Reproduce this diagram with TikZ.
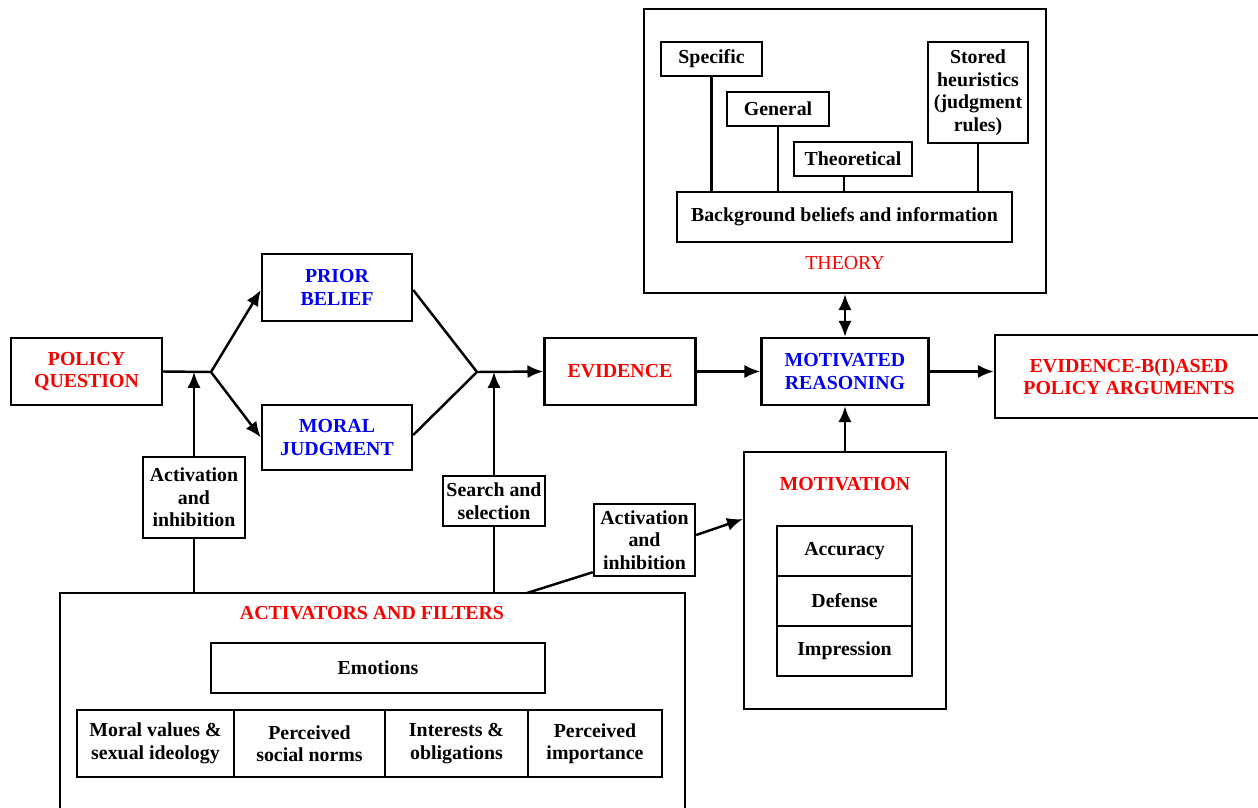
\documentclass[tikz,border=0pt]{standalone}
\usepackage{fontspec}
\setmainfont{Liberation Serif}
\usepackage{tikz}
\usetikzlibrary{arrows.meta,positioning,calc}
\definecolor{lblred}{RGB}{250,0,0}
\definecolor{lblblue}{RGB}{0,0,245}

\begin{document}
\begin{tikzpicture}[
x=0.02cm, y=-0.02cm,
every node/.style={font=\bfseries\fontsize{11.3}{12.8}\selectfont},
box/.style={draw, line width=1.4pt, align=center, inner sep=1pt},
outerbox/.style={draw, line width=1.4pt, inner sep=0pt},
cell/.style={draw, line width=1.4pt, align=center, inner sep=1pt, outer sep=0pt, minimum height=1.0cm},
redtext/.style={text=lblred, align=center},
bluetext/.style={text=lblblue, align=center},
link/.style={line width=1.4pt},
arrow/.style={-{Latex[length=9pt,width=7.5pt]}, line width=1.4pt},
twoarrow/.style={{Latex[length=9pt,width=7.5pt]}-{Latex[length=9pt,width=7.5pt]}, line width=1.4pt}
]
\useasboundingbox (0,0) rectangle (1258,808);

\node[box, redtext, minimum width=3.02cm, minimum height=1.34cm] (policy) at (86.5,371.5) {POLICY\\QUESTION};
\node[box, bluetext, minimum width=3.0cm, minimum height=1.34cm] (prior) at (337,287.5) {PRIOR\\BELIEF};
\node[box, bluetext, minimum width=3.0cm, minimum height=1.3cm] (moral) at (337,437.5) {MORAL\\JUDGMENT};
\node[box, redtext, minimum width=3.02cm, minimum height=1.34cm] (evidence) at (620,371.5) {EVIDENCE};
\node[box, bluetext, minimum width=3.34cm, minimum height=1.34cm] (reasoning) at (845,371.5) {MOTIVATED\\REASONING};
\node[box, redtext, minimum width=5.36cm, minimum height=1.66cm] (arguments) at (1129,376.5) {EVIDENCE-B(I)ASED\\POLICY ARGUMENTS};
\coordinate (split) at (211,372);
\coordinate (merge) at (477,372);

\node[outerbox, minimum width=8.04cm, minimum height=5.68cm] (theory) at (845,151) {};
\node[redtext, font=\fontsize{11.3}{12.8}\selectfont] (theorylbl) at (845,263) {THEORY};
\node[box, minimum width=2.02cm, minimum height=0.68cm] (specific) at (711.5,59) {Specific};
\node[box, minimum width=2.04cm, minimum height=0.68cm] (general) at (778,109) {General};
\node[box, minimum width=2.36cm, minimum height=0.68cm] (theoretical) at (853,159) {Theoretical};
\node[box, minimum width=2.0cm, minimum height=2.02cm] (heuristics) at (978,92.5) {Stored\\heuristics\\(judgment\\rules)};
\node[box, minimum width=6.7cm, minimum height=1.0cm] (background) at (844.5,217) {Background beliefs and information};

\node[outerbox, minimum width=4.04cm, minimum height=5.14cm] (motivation) at (845,580.5) {};
\node[redtext] (motivationlbl) at (845,484) {MOTIVATION};
\node[cell, minimum width=2.7cm] (accuracy) at (844.5,551) {Accuracy};
\node[cell, minimum width=2.7cm, below=0pt of accuracy] (defense) {Defense};
\node[cell, minimum width=2.7cm, below=0pt of defense] (impression) {Impression};

\node[outerbox, minimum width=12.5cm, minimum height=4.74cm] (filters) at (372.5,711.5) {};
\node[redtext] (filterslbl) at (372,613) {ACTIVATORS AND FILTERS};
\node[box, minimum width=6.68cm, minimum height=1.0cm] (emotions) at (378,668) {Emotions};
\node[cell, minimum width=3.14cm, minimum height=1.34cm] (values) at (155.5,743.5) {Moral values \&\\sexual ideology};
\node[cell, minimum width=3.02cm, minimum height=1.34cm] (norms) at (309.5,743.5) {Perceived\\social norms};
\node[cell, minimum width=2.86cm, minimum height=1.34cm] (interests) at (456.5,743.5) {Interests \&\\obligations};
\node[cell, minimum width=2.68cm, minimum height=1.34cm] (importance) at (595,743.5) {Perceived\\importance};

\node[box, minimum width=2.04cm, minimum height=1.62cm] (activleft) at (194,497.5) {Activation\\and\\inhibition};
\node[box, minimum width=2.04cm, minimum height=1.0cm] (search) at (494,501) {Search and\\selection};
\node[box, minimum width=2.02cm, minimum height=1.44cm] (activright) at (644.5,540) {Activation\\and\\inhibition};
\coordinate (filtersout) at (527,593);

\draw[link] (policy.east) -- (split);
\draw[arrow] (split) -- ([yshift=-0.05cm]prior.west);
\draw[arrow] (split) -- (moral.west);
\draw[link] ([yshift=-0.05cm]prior.east) -- (merge);
\draw[link] ([yshift=0.05cm]moral.east) -- (merge);
\draw[arrow] (merge) -- (evidence.west);
\draw[arrow] (evidence.east) -- (reasoning.west);
\draw[arrow] (reasoning.east) -- (reasoning.east -| arguments.west);
\draw[twoarrow] (theory.south) -- (reasoning.north);
\draw[arrow] (motivation.north) -- (reasoning.south);

\draw[link] (specific.south) -- (specific.south |- background.north);
\draw[link] (general.south) -- (general.south |- background.north);
\draw[link] ([xshift=-0.18cm]theoretical.south) -- ([xshift=-0.18cm]theoretical.south |- background.north);
\draw[link] (heuristics.south) -- (heuristics.south |- background.north);

\draw[link] (activleft.south) -- (activleft.south |- filters.north);
\draw[arrow] (activleft.north) -- (activleft.north |- split);
\draw[link] (search.south) -- (search.south |- filters.north);
\draw[arrow] (search.north) -- (search.north |- merge);
\draw[link] (filtersout) -- ([yshift=0.1cm]activright.south west);
\draw[arrow] ([yshift=0.1cm]activright.east) -- ([yshift=1.23cm]motivation.west);
\end{tikzpicture}
\end{document}
